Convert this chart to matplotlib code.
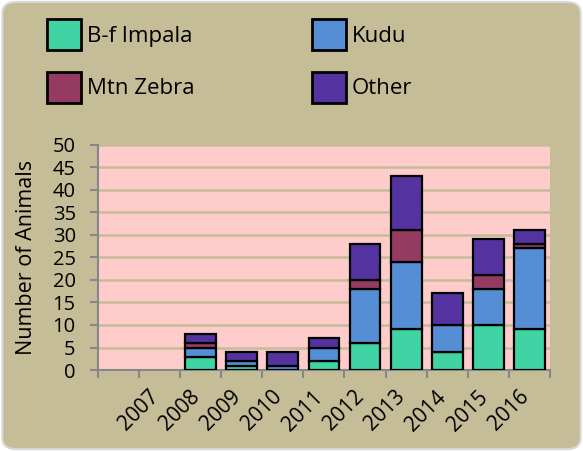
import numpy as np
import matplotlib.pyplot as plt
from matplotlib.patches import FancyBboxPatch, Patch

plt.rcParams['font.family'] = ['Open Sans', 'DejaVu Sans']

# Animals counted per year (first slot has no label)
years = ['', '2007', '2008', '2009', '2010', '2011', '2012', '2013', '2014', '2015', '2016']
impala = [0, 0, 3, 1, 0, 2, 6, 9, 4, 10, 9]
kudu = [0, 0, 2, 1, 1, 3, 12, 15, 6, 8, 18]
zebra = [0, 0, 1, 0, 0, 0, 2, 7, 0, 3, 1]
other = [0, 0, 2, 2, 3, 2, 8, 12, 7, 8, 3]

series = [('B-f Impala', impala, '#40D4A4'),
          ('Kudu', kudu, '#558ED5'),
          ('Mtn Zebra', zebra, '#953B61'),
          ('Other', other, '#5433A0')]

tan = '#C4BD97'
fig = plt.figure(figsize=(5.83, 4.51), dpi=100, facecolor='white')
fig.add_artist(FancyBboxPatch((0.004, 0.004), 0.992, 0.992,
                              boxstyle='round,pad=0,rounding_size=0.025',
                              transform=fig.transFigure, facecolor=tan,
                              edgecolor='#D9D9D9', linewidth=1.5, zorder=-10))

ax = fig.add_axes([0.168, 0.1796, 0.7753, 0.4989])
ax.set_facecolor('#FFCCCC')

x = np.arange(len(years))
bottom = np.zeros(len(years))
for name, vals, col in series:
    vals = np.array(vals, dtype=float)
    keep = vals > 0
    ax.bar(x[keep], vals[keep], bottom=bottom[keep], width=0.75, color=col,
           edgecolor='black', linewidth=1.6, zorder=3)
    bottom += vals

ax.set_xlim(-0.5, len(years) - 0.5)
ax.set_ylim(0, 50)
ax.set_yticks(np.arange(0, 51, 5))
ax.yaxis.grid(True, color=tan, linewidth=1.8, zorder=1)
ax.set_axisbelow(True)

ax.set_xticks(x)
ax.set_xticklabels(years, rotation=45, ha='right', va='baseline',
                   rotation_mode='anchor', fontsize=15)
ax.set_xticks(np.arange(-0.5, len(years)), minor=True)
ax.tick_params(axis='x', which='major', length=0, pad=20)
ax.tick_params(axis='x', which='minor', length=6, width=1.5, color='#878787')
ax.tick_params(axis='y', length=6, width=1.5, color='#878787', labelsize=14.5, pad=10)

for side in ['top', 'right']:
    ax.spines[side].set_visible(False)
for side in ['left', 'bottom']:
    ax.spines[side].set_color('#878787')
    ax.spines[side].set_linewidth(1.5)

ax.set_ylabel('Number of Animals', fontsize=15.5, labelpad=11)

handles = [Patch(facecolor=c, edgecolor='black', linewidth=2) for _, _, c in series]
names = [n for n, _, _ in series]
order = [0, 2, 1, 3]
fig.legend([handles[i] for i in order], [names[i] for i in order], ncol=2,
           loc='upper left', bbox_to_anchor=(47 / 583, 1 - 19 / 451),
           frameon=False, fontsize=16, handlelength=1.53, handleheight=1.75,
           handletextpad=0.25, columnspacing=5.3, labelspacing=1.0,
           borderpad=0, borderaxespad=0)

fig.savefig('out.png', dpi=100, facecolor='white')
